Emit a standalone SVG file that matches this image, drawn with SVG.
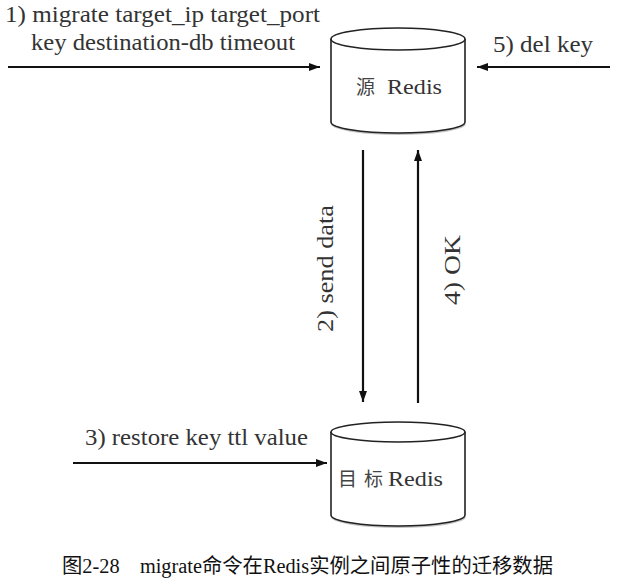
<svg xmlns="http://www.w3.org/2000/svg" width="624" height="588" viewBox="0 0 624 588">
<style>
text{font-family:"Liberation Serif","Times New Roman","DejaVu Serif","Noto Sans CJK SC",serif}
.lbl{font-size:23px;fill:#333}
.node-t{font-size:21px;fill:#333}
.cjk{font-size:19px;fill:#444}
.cap{font-size:20px;fill:#111}
.cyl{fill:#fff;stroke:#222;stroke-width:1.6}
.shadow{fill:none;stroke:#999;stroke-width:2.5;opacity:0.6}
.conn{stroke:#111;stroke-width:2.2;fill:none}
</style>
<defs>
<marker id="ah" markerUnits="userSpaceOnUse" markerWidth="11" markerHeight="8" refX="11" refY="4" orient="auto">
<path d="M0,0 L11,4 L0,8 Z" fill="#111"/>
</marker>
</defs>
<rect width="624" height="588" fill="#fff"/>
<g id="src">
<path class="shadow" d="M332,124 A67,11 0 0 0 465,124"/>
<path class="cyl" d="M331,39 A67,11 0 0 1 465,39 L465,122 A67,11 0 0 1 331,122 Z"/>
<path class="cyl" d="M331,39 A67,11 0 0 0 465,39"/>
<text class="node-t" y="94"><tspan class="cjk" x="356">源 </tspan><tspan x="387" textLength="55" lengthAdjust="spacingAndGlyphs">Redis</tspan></text>
</g>
<g id="dst">
<path class="shadow" d="M332,517 A67,11 0 0 0 465,517"/>
<path class="cyl" d="M331,432 A67,10 0 0 1 465,432 L465,515 A67,11 0 0 1 331,515 Z"/>
<path class="cyl" d="M331,432 A67,10 0 0 0 465,432"/>
<text class="node-t" y="486"><tspan class="cjk" x="338">目 </tspan><tspan class="cjk" x="364">标 </tspan><tspan x="388" textLength="55" lengthAdjust="spacingAndGlyphs">Redis</tspan></text>
</g>
<g id="connectors">
<line class="conn" x1="8" y1="67" x2="320" y2="67" marker-end="url(#ah)"/>
<line class="conn" x1="610" y1="67" x2="477" y2="67" marker-end="url(#ah)"/>
<line class="conn" x1="363" y1="150" x2="363" y2="402" marker-end="url(#ah)"/>
<line class="conn" x1="418" y1="403" x2="418" y2="150" marker-end="url(#ah)"/>
<line class="conn" x1="73" y1="463" x2="327" y2="463" marker-end="url(#ah)"/>
</g>
<g id="labels">
<text class="lbl" x="5" y="22" textLength="315" lengthAdjust="spacingAndGlyphs">1) migrate target_ip target_port</text>
<text class="lbl" x="31" y="50" textLength="264" lengthAdjust="spacingAndGlyphs">key destination-db timeout</text>
<text class="lbl" x="493" y="52" textLength="100" lengthAdjust="spacingAndGlyphs">5) del key</text>
<text class="lbl" x="85" y="445" textLength="223" lengthAdjust="spacingAndGlyphs">3) restore key ttl value</text>
<text class="lbl" transform="translate(333,332) rotate(-90)" x="0" y="0" textLength="127" lengthAdjust="spacingAndGlyphs">2) send data</text>
<text class="lbl" transform="translate(460,305) rotate(-90)" x="0" y="0" textLength="70" lengthAdjust="spacingAndGlyphs">4) OK</text>
</g>
<text class="cap" x="62" y="573" textLength="491" lengthAdjust="spacingAndGlyphs">图2-28　migrate命令在Redis实例之间原子性的迁移数据</text>
</svg>
